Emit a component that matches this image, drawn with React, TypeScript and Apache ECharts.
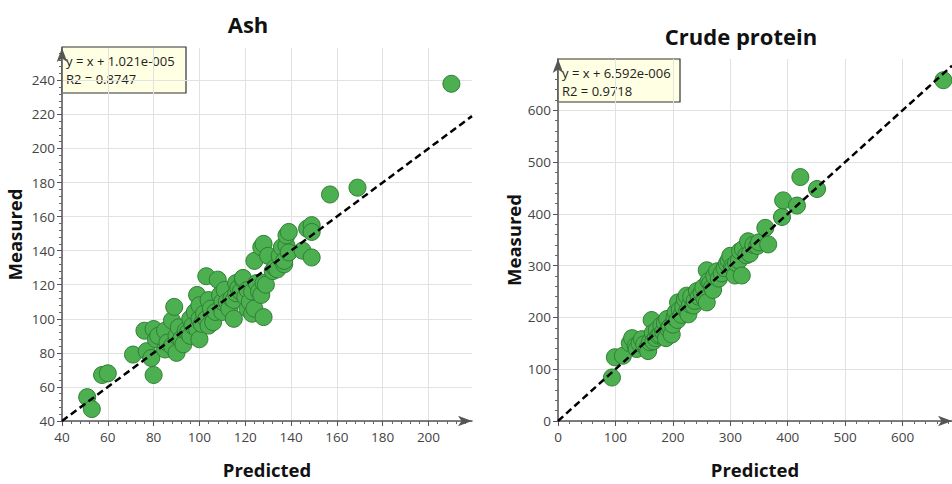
import React, { useEffect, useRef } from "react";
import * as echarts from "echarts";

const ashTitle = "Ash";
const cpTitle = "Crude protein";
const ashEquation = ["y = x + 1.021e-005", "R2 = 0.8747"];
const cpEquation = ["y = x + 6.592e-006", "R2 = 0.9718"];

const ashPoints: [number, number][] = [
  [51, 54], [53, 47], [57.5, 67], [60, 68], [71, 79], [76, 93], [77, 81], [79, 77], [80, 94], [80, 67],
  [81, 88], [82, 90], [85, 82], [85, 93], [86, 86], [88, 99], [88, 84], [89, 107], [90, 80], [90, 90],
  [91, 95], [92, 88], [93, 85], [94, 93], [95, 92], [96, 100], [96, 90], [97, 96], [98, 104], [99, 94],
  [99, 114], [100, 88], [100, 100], [100, 108], [101, 97], [102, 103], [103, 125], [103, 100], [104, 111], [104, 96],
  [105, 106], [106, 98], [107, 104], [108, 123], [109, 114], [110, 104], [110, 110], [111, 117], [112, 110], [113, 106],
  [114, 112], [115, 100], [115, 111], [116, 115], [116, 121], [117, 118], [118, 116], [119, 123], [119, 124], [120, 113],
  [121, 117], [121, 106], [122, 110], [123, 103], [123, 116], [124, 106], [124, 134], [125, 121], [126, 116], [127, 114],
  [127, 142], [128, 144], [128, 121], [128, 101], [129, 120], [130, 137], [132, 128], [133, 130], [134, 129], [135, 137],
  [136, 142], [137, 132], [137, 134], [138, 143], [138, 149], [139, 151], [139, 139], [145, 140], [147, 153], [149, 155],
  [149, 151], [149, 136], [157, 173], [169, 177], [210, 238],
];

const cpPoints: [number, number][] = [
  [94, 84], [99, 123], [113, 126], [125, 150], [129, 160], [135, 145], [137, 139], [142, 150], [146, 158], [150, 148],
  [155, 140], [157, 135], [160, 152], [163, 195], [165, 170], [166, 154], [170, 160], [172, 175], [175, 165], [178, 167],
  [180, 185], [183, 172], [186, 190], [188, 160], [190, 197], [192, 178], [195, 182], [198, 167], [200, 186], [203, 200],
  [205, 210], [208, 195], [209, 229], [212, 215], [215, 205], [218, 220], [221, 235], [224, 242], [225, 212], [227, 206],
  [230, 225], [232, 240], [236, 223], [238, 232], [242, 251], [245, 240], [250, 248], [253, 258], [255, 236], [259, 291],
  [259, 229], [262, 270], [265, 266], [268, 258], [270, 253], [272, 280], [277, 289], [280, 275], [285, 285], [290, 295],
  [294, 304], [297, 310], [300, 319], [303, 298], [305, 295], [308, 281], [310, 305], [315, 310], [317, 328], [320, 281],
  [322, 332], [328, 320], [331, 347], [334, 323], [340, 340], [347, 338], [350, 345], [361, 373], [366, 341], [390, 394],
  [392, 426], [416, 416], [422, 471], [451, 448], [671, 658],
];

const ashXTicks = [40, 60, 80, 100, 120, 140, 160, 180, 200];
const ashYTicks = [40, 60, 80, 100, 120, 140, 160, 180, 200, 220, 240];
const cpXTicks = [0, 100, 200, 300, 400, 500, 600];
const cpYTicks = [0, 100, 200, 300, 400, 500, 600];
const ashAxis = { xMin: 40, xMax: 219, yMin: 40, yMax: 259, step: 20 };
const cpAxis = { xMin: 0, xMax: 686, yMin: 0, yMax: 699, step: 100 };
const ashLine: [number, number][] = [[40, 40], [219, 219]];
const cpLine: [number, number][] = [[0, 0], [686, 686]];

const FONT = "'Open Sans', 'Noto Sans', sans-serif";

function axisCommon(name: string, min: number, max: number, step: number, ticks: number[], isY: boolean) {
  return {
    type: "value",
    min,
    max,
    interval: step,
    name,
    nameLocation: "middle",
    nameGap: isY ? 38 : 39,
    nameTextStyle: { fontFamily: FONT, fontSize: 18.5, fontWeight: "bold", color: "#111" },
    axisLine: {
      show: true,
      onZero: false,
      symbol: ["none", "arrow"],
      symbolSize: [8, 14],
      lineStyle: { color: "#555", width: 1.5 },
    },
    axisTick: { show: true, length: 5, customValues: ticks, lineStyle: { color: "#555" } },
    minorTick: { show: true, splitNumber: 5, length: 3, lineStyle: { color: "#666" } },
    axisLabel: {
      fontFamily: FONT,
      fontSize: 13.5,
      color: "#444",
      margin: isY ? 7 : 9,
      customValues: ticks,
    },
    splitLine: { show: true, lineStyle: { color: "#e2e2e2", width: 1 } },
    minorSplitLine: { show: false },
  };
}

function eqBox(x: number, y: number, w: number, h: number, lines: string[]) {
  return {
    type: "group",
    x,
    y,
    z: 100,
    children: [
      { type: "rect", shape: { x: 0, y: 0, width: w, height: h }, style: { fill: "#ffffe3", stroke: "#333", lineWidth: 1.2 } },
      { type: "text", x: 4, y: 7, style: { text: lines[0], fontFamily: FONT, fontSize: 13, fill: "#222" } },
      { type: "text", x: 4, y: 25, style: { text: lines[1], fontFamily: FONT, fontSize: 13, fill: "#222" } },
    ],
  };
}

export default function App() {
  const ref = useRef<HTMLDivElement>(null);
  useEffect(() => {
    if (!ref.current) return;
    const chart = echarts.init(ref.current, null, { renderer: "svg" });
    const scatterStyle = { color: "#4caf50", borderColor: "#2f7f34", borderWidth: 1, opacity: 1 };
    chart.setOption({
      animation: false,
      backgroundColor: "#ffffff",
      title: [
        { text: ashTitle, left: 243, top: 8, textAlign: "center", textStyle: { fontFamily: FONT, fontSize: 22, fontWeight: "bold", color: "#111" } },
        { text: cpTitle, left: 736, top: 20, textAlign: "center", textStyle: { fontFamily: FONT, fontSize: 22, fontWeight: "bold", color: "#111" } },
      ],
      grid: [
        { left: 62, top: 48, width: 410, height: 384 },
        { left: 558, top: 59, width: 394, height: 373 },
      ],
      xAxis: [
        { ...axisCommon("Predicted", ashAxis.xMin, ashAxis.xMax, ashAxis.step, ashXTicks, false), gridIndex: 0 },
        { ...axisCommon("Predicted", cpAxis.xMin, cpAxis.xMax, cpAxis.step, cpXTicks, false), gridIndex: 1 },
      ],
      yAxis: [
        { ...axisCommon("Measured", ashAxis.yMin, ashAxis.yMax, ashAxis.step, ashYTicks, true), gridIndex: 0 },
        { ...axisCommon("Measured", cpAxis.yMin, cpAxis.yMax, cpAxis.step, cpYTicks, true), gridIndex: 1, nameGap: 35 },
      ],
      series: [
        { type: "scatter", xAxisIndex: 0, yAxisIndex: 0, data: ashPoints, symbolSize: 17, itemStyle: scatterStyle, z: 2 },
        { type: "line", xAxisIndex: 0, yAxisIndex: 0, data: ashLine, symbol: "none", lineStyle: { color: "#000", width: 2.5, type: [7, 4] }, z: 3 },
        { type: "scatter", xAxisIndex: 1, yAxisIndex: 1, data: cpPoints, symbolSize: 17, itemStyle: scatterStyle, z: 2 },
        { type: "line", xAxisIndex: 1, yAxisIndex: 1, data: cpLine, symbol: "none", lineStyle: { color: "#000", width: 2.5, type: [7, 4] }, z: 3 },
      ],
      graphic: [eqBox(62, 47, 124, 46, ashEquation), eqBox(558, 59, 122, 43, cpEquation)],
    });
    return () => chart.dispose();
  }, []);
  return <div ref={ref} style={{ position: "absolute", left: 0, top: 0, width: 952, height: 484 }} />;
}
